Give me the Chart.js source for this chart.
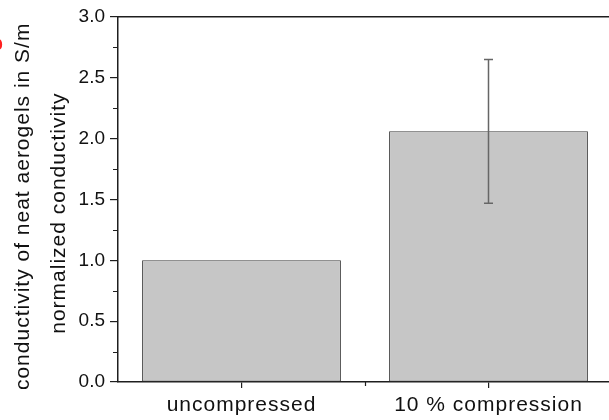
<!DOCTYPE html>
<html>
<head>
<meta charset="utf-8">
<script src="https://cdn.jsdelivr.net/npm/chart.js@4"></script>
<style>
  html, body { margin: 0; padding: 0; overflow: hidden; background: #fff; }
</style>
</head>
<body>
<canvas id="chart" width="612" height="420"></canvas>
<script>
// data
const categories = ['uncompressed', '10 % compression'];
const values = [1.0, 2.06];
const errors = [0, 0.59];
const yMin = 0, yMax = 3.0, yStep = 0.5;
// trailing spaces nudge the centred titles down a bit, like the original
const yTitle = ['conductivity of neat aerogels in S/m  ', 'normalized conductivity    '];

const axisColor = '#1e1e1e';
const font = 'Liberation Sans, Arial, sans-serif';

// error bars, minor ticks, letter spacing for the labels
const extras = {
  id: 'extras',
  beforeDatasetsDraw(chart) {
    chart.ctx.letterSpacing = '1px';
  },
  afterDatasetsDraw(chart) {
    const ctx = chart.ctx;
    const x = chart.scales.x;
    const y = chart.scales.y;
    const meta = chart.getDatasetMeta(0);
    ctx.save();
    ctx.strokeStyle = '#666';
    ctx.lineWidth = 1.5;
    meta.data.forEach((bar, i) => {
      if (!errors[i]) return;
      const top = y.getPixelForValue(values[i] + errors[i]);
      const bot = y.getPixelForValue(values[i] - errors[i]);
      ctx.beginPath();
      ctx.moveTo(bar.x, top); ctx.lineTo(bar.x, bot);
      ctx.moveTo(bar.x - 4.5, top); ctx.lineTo(bar.x + 4.5, top);
      ctx.moveTo(bar.x - 4.5, bot); ctx.lineTo(bar.x + 4.5, bot);
      ctx.stroke();
    });

    // minor ticks
    ctx.strokeStyle = axisColor;
    ctx.lineWidth = 1.2;
    ctx.beginPath();
    for (let v = yMin + yStep / 2; v < yMax; v += yStep) {
      const py = Math.round(y.getPixelForValue(v)) + 0.5;
      ctx.moveTo(y.right - 5, py); ctx.lineTo(y.right, py);
    }
    for (let i = 0; i < categories.length - 1; i++) {
      const px = Math.round((x.getPixelForValue(i) + x.getPixelForValue(i + 1)) / 2) + 0.5;
      ctx.moveTo(px, x.top); ctx.lineTo(px, x.top + 4);
    }
    ctx.stroke();

    // cut-off panel letter at the left edge
    ctx.fillStyle = '#ff2020';
    ctx.font = 'bold 20px ' + font;
    ctx.textAlign = 'right';
    ctx.textBaseline = 'middle';
    ctx.fillText('b', 4, 44);
    ctx.restore();
  },
  afterDraw(chart) {
    chart.ctx.letterSpacing = '0px';
  }
};

new Chart(document.getElementById('chart').getContext('2d'), {
  type: 'bar',
  data: {
    labels: categories,
    datasets: [{
      data: values,
      backgroundColor: '#c6c6c6',
      borderColor: '#3c3c3c',
      borderWidth: 1,
      borderSkipped: false,
      barPercentage: 0.805,
      categoryPercentage: 1.0
    }]
  },
  options: {
    responsive: false,
    animation: false,
    devicePixelRatio: 1,
    layout: { padding: 0 },
    plugins: { legend: { display: false }, tooltip: { enabled: false } },
    scales: {
      x: {
        position: 'bottom',
        offset: true,
        grid: { drawOnChartArea: false, offset: false, tickLength: 6, color: axisColor, lineWidth: 1.2 },
        border: { display: true, color: axisColor, width: 1.5 },
        ticks: { color: '#111', padding: 5, font: { family: font, size: 21, lineHeight: 1.2 }, maxRotation: 0, z: 1 },
        afterFit(scale) { scale.height = 38; }
      },
      xTop: {
        type: 'category',
        position: 'top',
        labels: categories,
        grid: { display: false, drawTicks: false },
        border: { display: true, color: axisColor, width: 1.5 },
        ticks: { display: false },
        afterFit(scale) { scale.height = 17; }
      },
      y: {
        position: 'left',
        min: yMin,
        max: yMax,
        weight: 0,
        grid: { drawOnChartArea: false, tickLength: 8, color: axisColor, lineWidth: 1.2 },
        border: { display: true, color: axisColor, width: 1.5 },
        ticks: {
          stepSize: yStep,
          color: '#111',
          padding: 5,
          font: { family: font, size: 19 },
          callback: v => v.toFixed(1)
        },
        afterFit(scale) { scale.width = 48; }
      },
      yt: {
        type: 'linear',
        position: 'left',
        weight: 1,
        grid: { display: false, drawTicks: false, z: 1 },
        border: { display: false },
        ticks: { display: false },
        title: {
          display: true,
          text: yTitle,
          color: '#111',
          padding: { top: 5, bottom: 0 },
          font: { family: font, size: 21, lineHeight: 1.71 }
        },
        afterFit(scale) { scale.width = 70; }
      }
    }
  },
  plugins: [extras]
});
</script>
</body>
</html>
